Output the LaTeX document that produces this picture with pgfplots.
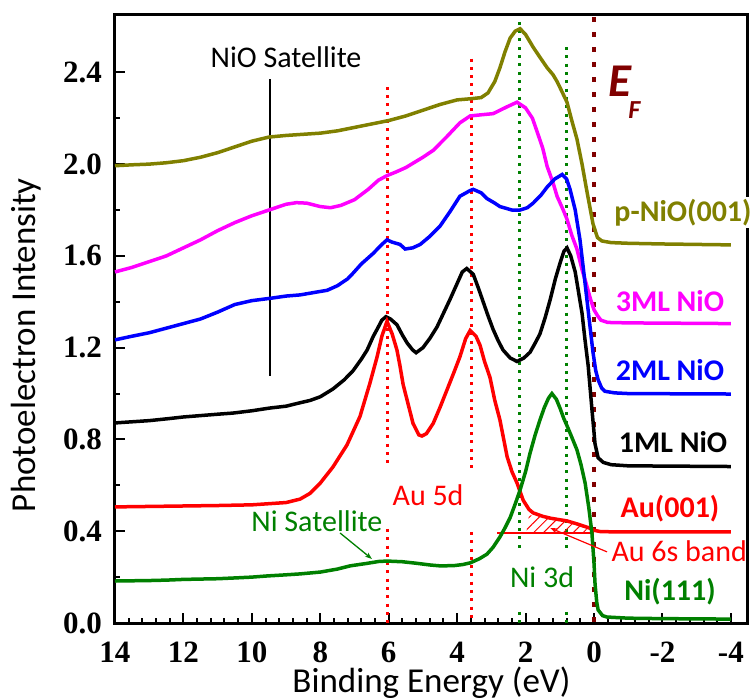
\documentclass[border=0pt]{standalone}
\usepackage{pgfplots}
\pgfplotsset{compat=1.18}
\usepackage{fontspec}
\setmainfont{Carlito}
\newfontfamily\tnrfont{Liberation Serif}[BoldFont={Liberation Serif Bold}]
\usetikzlibrary{patterns.meta,arrows.meta}
\definecolor{olv}{HTML}{808000}
\definecolor{mag}{HTML}{FF00FF}
\definecolor{grn}{HTML}{008000}
\definecolor{dred}{HTML}{800000}
\newcommand{\fs}[1]{\fontsize{#1bp}{#1bp}\selectfont}
\newcommand{\T}[1]{{\tnrfont\bfseries\fs{31}#1}}
\begin{document}
\begin{tikzpicture}
\path[use as bounding box] (-115bp,-77bp) rectangle (639bp,623bp);
\begin{axis}[
  scale only axis, width=633bp, height=608bp,
  x dir=reverse, xmin=-4.5, xmax=14, ymin=0, ymax=2.65,
  clip=false,
  axis line style={line width=3bp},
  every tick/.style={line width=2bp, black},
  major tick length=10bp, minor tick length=5bp,
  xtick={14,12,10,8,6,4,2,0,-2,-4},
  xticklabels={\T{14},\T{12},\T{10},\T{8},\T{6},\T{4},\T{2},\T{0},\T{-2},\T{-4}},
  ytick={0,0.4,0.8,1.2,1.6,2.0,2.4},
  yticklabels={\T{0.0},\T{0.4},\T{0.8},\T{1.2},\T{1.6},\T{2.0},\T{2.4}},
  minor x tick num=4, minor y tick num=1,
  xtick pos=bottom, ytick pos=left,
  tick align=inside,
  xticklabel style={anchor=base, yshift=-39bp, inner sep=0pt},
  yticklabel style={anchor=east, xshift=-13bp, inner sep=0pt},
  xlabel={Binding Energy (eV)},
  ylabel={Photoelectron Intensity},
  xlabel style={font=\fs{35}, at={(axis description cs:0.5,0)}, anchor=base, yshift=-69bp, inner sep=0pt},
  ylabel style={font=\fs{35}, at={(axis description cs:-0.1643,0.457)}, anchor=north, inner sep=0pt},
]
% vertical reference lines
\addplot[red, line width=3bp, dash pattern=on 3bp off 5.3bp] coordinates {(6.05,2.337) (6.05,0.685)};
\addplot[red, line width=3bp, dash pattern=on 3bp off 5.3bp] coordinates {(6.05,0.41) (6.05,0)};
\addplot[red, line width=3bp, dash pattern=on 3bp off 5.3bp] coordinates {(3.59,2.46) (3.59,0.676)};
\addplot[red, line width=3bp, dash pattern=on 3bp off 5.3bp] coordinates {(3.59,0.397) (3.59,0)};
\addplot[grn, line width=3bp, dash pattern=on 3bp off 5.3bp] coordinates {(2.18,2.62) (2.18,0.318)};
\addplot[grn, line width=3bp, dash pattern=on 3bp off 5.3bp] coordinates {(2.18,0.048) (2.18,0)};
\addplot[grn, line width=3bp, dash pattern=on 3bp off 5.3bp] coordinates {(0.79,2.51) (0.79,0.318)};
\addplot[grn, line width=3bp, dash pattern=on 3bp off 5.3bp] coordinates {(0.79,0.048) (0.79,0)};
\addplot[dred, line width=4.5bp, dash pattern=on 5bp off 10bp] coordinates {(0,2.64) (0,0)};
\addplot[black, line width=1.4bp] coordinates {(9.47,2.37) (9.47,1.077)};
% p-NiO(001)
\addplot[olv, line width=3.5bp] coordinates {
(14,1.993)(13.5,1.997)(13,2.0)(12.5,2.006)(12,2.015)(11.5,2.03)(11,2.05)(10.5,2.075)(10,2.1)(9.5,2.118)(9,2.125)(8.5,2.13)(8,2.135)(7.5,2.145)(7,2.16)(6.5,2.175)(6,2.19)(5.5,2.21)(5,2.235)(4.5,2.26)(4,2.28)(3.6,2.285)(3.3,2.29)(3.1,2.31)(2.9,2.36)(2.75,2.42)(2.6,2.49)(2.45,2.55)(2.3,2.58)(2.16,2.59)(2.0,2.565)(1.78,2.51)(1.6,2.47)(1.37,2.42)(1.2,2.39)(1.08,2.36)(0.95,2.32)(0.79,2.27)(0.65,2.19)(0.5,2.11)(0.35,2.0)(0.2,1.875)(0.03,1.74)(-0.1,1.68)(-0.23,1.665)(-0.5,1.658)(-1,1.655)(-2,1.652)(-3,1.65)(-4,1.648)};
% 3ML NiO
\addplot[mag, line width=3.5bp] coordinates {
(14,1.53)(13.5,1.55)(13,1.575)(12.5,1.60)(12,1.635)(11.5,1.67)(11,1.71)(10.5,1.745)(10,1.775)(9.5,1.80)(9,1.825)(8.7,1.832)(8.4,1.83)(8,1.815)(7.7,1.81)(7.4,1.82)(7,1.845)(6.6,1.89)(6.3,1.93)(6.05,1.95)(5.8,1.965)(5.5,1.985)(5,2.03)(4.7,2.06)(4.3,2.12)(3.92,2.18)(3.62,2.21)(3.3,2.215)(2.95,2.22)(2.54,2.25)(2.25,2.27)(2.0,2.245)(1.8,2.2)(1.66,2.14)(1.5,2.07)(1.37,1.99)(1.2,1.92)(1.08,1.86)(0.9,1.8)(0.79,1.76)(0.65,1.69)(0.5,1.63)(0.35,1.54)(0.23,1.48)(0.1,1.41)(0.0,1.365)(-0.1,1.34)(-0.2,1.32)(-0.4,1.31)(-1,1.308)(-4,1.305)};
% 2ML NiO
\addplot[blue, line width=3.5bp] coordinates {
(14,1.234)(13.5,1.25)(13,1.265)(12.5,1.285)(12,1.305)(11.5,1.325)(11,1.355)(10.5,1.388)(10,1.405)(9.47,1.415)(9,1.425)(8.59,1.43)(8.2,1.44)(7.8,1.45)(7.5,1.47)(7.2,1.5)(7.04,1.525)(6.8,1.565)(6.46,1.61)(6.2,1.65)(6.05,1.67)(5.9,1.66)(5.67,1.65)(5.52,1.63)(5.3,1.635)(5.08,1.65)(4.8,1.685)(4.5,1.73)(4.2,1.795)(3.92,1.86)(3.62,1.885)(3.53,1.89)(3.3,1.875)(3.13,1.85)(2.9,1.83)(2.75,1.815)(2.4,1.8)(2.16,1.80)(1.95,1.81)(1.78,1.83)(1.55,1.865)(1.37,1.9)(1.15,1.935)(0.93,1.955)(0.8,1.935)(0.7,1.89)(0.55,1.80)(0.41,1.67)(0.3,1.53)(0.2,1.40)(0.1,1.27)(0.03,1.18)(-0.05,1.1)(-0.12,1.06)(-0.22,1.025)(-0.32,1.01)(-0.6,1.003)(-1,1.0)(-4,0.998)};
% 1ML NiO
\addplot[black, line width=3.5bp] coordinates {
(14,0.872)(13,0.882)(12.48,0.89)(12,0.898)(11,0.91)(10.55,0.915)(10,0.925)(9.47,0.937)(9,0.945)(8.59,0.96)(8.3,0.97)(8.0,0.986)(7.63,1.02)(7.3,1.06)(7.04,1.10)(6.8,1.15)(6.63,1.19)(6.45,1.25)(6.34,1.28)(6.2,1.32)(6.08,1.335)(5.95,1.325)(5.76,1.30)(5.6,1.255)(5.46,1.22)(5.3,1.19)(5.2,1.178)(5.0,1.20)(4.8,1.24)(4.59,1.29)(4.4,1.35)(4.21,1.41)(4.0,1.48)(3.85,1.53)(3.72,1.545)(3.53,1.52)(3.38,1.46)(3.24,1.40)(3.1,1.34)(2.95,1.28)(2.8,1.23)(2.66,1.19)(2.45,1.155)(2.25,1.14)(2.05,1.155)(1.87,1.18)(1.72,1.22)(1.58,1.26)(1.43,1.33)(1.28,1.41)(1.13,1.50)(0.99,1.57)(0.88,1.62)(0.79,1.635)(0.68,1.60)(0.55,1.53)(0.45,1.44)(0.35,1.35)(0.26,1.23)(0.17,1.12)(0.06,0.93)(-0.03,0.78)(-0.12,0.72)(-0.27,0.70)(-0.5,0.69)(-1,0.685)(-4,0.682)};
% hatched Au 6s band
\addplot[draw=none, pattern={Lines[angle=45,distance=7bp,line width=1bp]}, pattern color=red] coordinates {
(1.98,0.392)(1.9,0.47)(1.6,0.465)(1.2,0.455)(0.8,0.445)(0.4,0.43)(0.1,0.41)(0.03,0.392)} -- cycle;
\addplot[red, line width=1.2bp] coordinates {(2.83,0.392) (0.0,0.392)};
% Au(001)
\addplot[red, line width=3.5bp] coordinates {
(14,0.506)(13,0.508)(12,0.51)(11,0.512)(10,0.515)(9.5,0.52)(9,0.525)(8.59,0.54)(8.3,0.565)(8.0,0.61)(7.63,0.68)(7.22,0.776)(6.84,0.90)(6.55,1.045)(6.34,1.16)(6.2,1.25)(6.05,1.315)(5.9,1.26)(5.76,1.19)(5.67,1.12)(5.58,1.04)(5.46,0.97)(5.29,0.87)(5.12,0.82)(5.03,0.815)(4.9,0.825)(4.7,0.87)(4.5,0.94)(4.3,1.015)(4.1,1.09)(3.92,1.16)(3.75,1.24)(3.62,1.275)(3.45,1.25)(3.33,1.21)(3.2,1.14)(3.04,1.07)(2.9,0.97)(2.75,0.885)(2.54,0.725)(2.4,0.66)(2.25,0.61)(2.07,0.535)(1.9,0.495)(1.78,0.48)(1.5,0.465)(1.28,0.457)(1.0,0.45)(0.79,0.445)(0.5,0.432)(0.32,0.423)(0.15,0.415)(0.03,0.405)(-0.2,0.398)(-1,0.397)(-4,0.397)};
% Ni(111)
\addplot[grn, line width=3.5bp] coordinates {
(14,0.183)(13,0.185)(12.48,0.187)(12,0.19)(11,0.193)(10.55,0.196)(10,0.2)(9.56,0.205)(9,0.21)(8.59,0.214)(8,0.222)(7.5,0.235)(7.13,0.249)(6.63,0.26)(6.3,0.268)(6.05,0.27)(5.6,0.267)(5.17,0.26)(4.8,0.253)(4.5,0.249)(4.1,0.25)(3.83,0.255)(3.62,0.262)(3.35,0.28)(3.13,0.30)(2.95,0.33)(2.75,0.375)(2.6,0.415)(2.45,0.46)(2.3,0.52)(2.16,0.58)(2.0,0.66)(1.87,0.74)(1.72,0.82)(1.58,0.885)(1.45,0.94)(1.33,0.98)(1.23,1.0)(1.1,0.975)(0.99,0.935)(0.88,0.89)(0.79,0.86)(0.65,0.81)(0.5,0.755)(0.38,0.69)(0.26,0.61)(0.15,0.5)(0.06,0.39)(0.0,0.26)(-0.03,0.17)(-0.08,0.09)(-0.12,0.057)(-0.25,0.032)(-0.38,0.026)(-1,0.021)(-2,0.019)(-4,0.017)};
% arrows
\addplot[grn, line width=1.3bp, -{Stealth[length=7bp,width=5bp]}] coordinates {(7.42,0.392) (6.49,0.279)};
\addplot[red, line width=1.2bp, -{Stealth[length=7bp,width=5bp]}] coordinates {(-0.38,0.31) (1.28,0.414)};
% annotations
\node[anchor=base, inner sep=0pt, font=\fs{30}] at (axis cs:9.0,2.42) {NiO Satellite};
\node[anchor=base, inner sep=0pt, font=\fs{30}, text=grn] at (axis cs:8.1,0.397) {Ni Satellite};
\node[anchor=base, inner sep=0pt, font=\fs{30}, text=red] at (axis cs:4.85,0.51) {Au 5d};
\node[anchor=base, inner sep=0pt, font=\fs{30}, text=grn] at (axis cs:1.52,0.153) {Ni 3d};
\node[anchor=base, inner sep=0pt, font=\fs{30}, text=red] at (axis cs:-2.49,0.266) {Au 6s band};
\node[inner sep=0pt, font=\bfseries\itshape\fs{47}, text=dred] at (axis cs:-0.76,2.36) {E};
\node[inner sep=0pt, font=\bfseries\itshape\fs{26}, text=dred] at (axis cs:-1.18,2.235) {F};
\node[anchor=base, inner sep=2pt, fill=white, font=\bfseries\fs{30}, text=olv] at (axis cs:-2.6,1.749) {p-NiO(001)};
\node[anchor=base, inner sep=0pt, font=\bfseries\fs{30}, text=mag] at (axis cs:-2.22,1.356) {3ML NiO};
\node[anchor=base, inner sep=0pt, font=\bfseries\fs{30}, text=blue] at (axis cs:-2.22,1.055) {2ML NiO};
\node[anchor=base, inner sep=0pt, font=\bfseries\fs{30}, text=black] at (axis cs:-2.31,0.741) {1ML NiO};
\node[anchor=base, inner sep=0pt, font=\bfseries\fs{30}, text=red] at (axis cs:-2.22,0.458) {Au(001)};
\node[anchor=base, inner sep=0pt, font=\bfseries\fs{30}, text=grn] at (axis cs:-2.22,0.096) {Ni(111)};
\end{axis}
\end{tikzpicture}
\end{document}
